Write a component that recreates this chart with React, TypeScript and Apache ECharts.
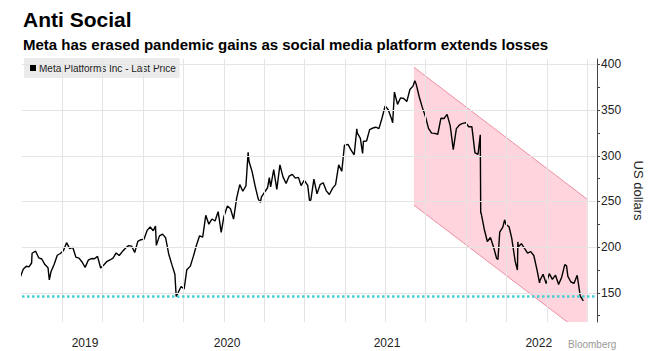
import React, { useEffect, useRef } from "react";
import * as echarts from "echarts";

const seriesName = "Meta Platforms Inc - Last Price";

const priceDates = [
  "2019-03-29","2019-04-05","2019-04-12","2019-04-18","2019-04-24","2019-04-25","2019-05-03","2019-05-10","2019-05-17","2019-05-24","2019-05-31",
  "2019-06-03","2019-06-07","2019-06-14","2019-06-21","2019-06-28","2019-07-05","2019-07-12","2019-07-19","2019-07-26","2019-08-02",
  "2019-08-09","2019-08-16","2019-08-23","2019-08-30","2019-09-06","2019-09-13","2019-09-20","2019-09-27","2019-10-04","2019-10-11",
  "2019-10-18","2019-10-25","2019-11-01","2019-11-08","2019-11-15","2019-11-22","2019-11-29","2019-12-06","2019-12-13","2019-12-20",
  "2019-12-27","2020-01-03","2020-01-10","2020-01-17","2020-01-24","2020-01-29","2020-01-31","2020-02-07","2020-02-14","2020-02-21",
  "2020-02-28","2020-03-06","2020-03-13","2020-03-16","2020-03-20","2020-03-27","2020-04-03","2020-04-09","2020-04-17","2020-04-24",
  "2020-05-01","2020-05-08","2020-05-15","2020-05-22","2020-05-29","2020-06-05","2020-06-12","2020-06-19","2020-06-26","2020-07-02",
  "2020-07-10","2020-07-17","2020-07-24","2020-07-31","2020-08-07","2020-08-14","2020-08-21","2020-08-26","2020-08-28","2020-09-04",
  "2020-09-11","2020-09-18","2020-09-23","2020-09-25","2020-10-02","2020-10-09","2020-10-13","2020-10-16","2020-10-23","2020-10-30",
  "2020-11-06","2020-11-13","2020-11-20","2020-11-27","2020-12-04","2020-12-11","2020-12-18","2020-12-24","2020-12-31","2021-01-08",
  "2021-01-12","2021-01-15","2021-01-22","2021-01-29","2021-02-05","2021-02-12","2021-02-19","2021-02-26","2021-03-05","2021-03-12",
  "2021-03-19","2021-03-26","2021-04-01","2021-04-09","2021-04-16","2021-04-23","2021-04-29","2021-04-30","2021-05-07","2021-05-12",
  "2021-05-14","2021-05-21","2021-05-28","2021-06-04","2021-06-11","2021-06-18","2021-06-25","2021-07-02","2021-07-09","2021-07-16",
  "2021-07-19","2021-07-23","2021-07-30","2021-08-06","2021-08-13","2021-08-20","2021-08-27","2021-09-03","2021-09-07","2021-09-10",
  "2021-09-17","2021-09-24","2021-10-01","2021-10-08","2021-10-15","2021-10-22","2021-10-29","2021-11-05","2021-11-12","2021-11-19",
  "2021-11-26","2021-12-03","2021-12-10","2021-12-17","2021-12-23","2021-12-31","2022-01-07","2022-01-14","2022-01-21","2022-01-28",
  "2022-02-02","2022-02-03","2022-02-04","2022-02-11","2022-02-18","2022-02-25","2022-03-04","2022-03-11","2022-03-14","2022-03-18",
  "2022-03-25","2022-03-29","2022-04-01","2022-04-08","2022-04-14","2022-04-22","2022-04-27","2022-04-28","2022-04-29","2022-05-06",
  "2022-05-13","2022-05-20","2022-05-27","2022-06-03","2022-06-10","2022-06-16","2022-06-17","2022-06-24","2022-07-01","2022-07-08",
  "2022-07-15","2022-07-22","2022-07-28","2022-07-29","2022-08-05","2022-08-12","2022-08-16","2022-08-19","2022-08-26","2022-09-02",
  "2022-09-09","2022-09-16","2022-09-23"
];

const priceValues = [
  166.7,175.7,179.1,178.3,182.6,193.3,195.5,188.3,187.0,180.9,177.5,
  164.2,173.4,181.3,191.1,193.0,196.4,204.9,198.4,199.8,189.0,
  187.9,183.7,177.8,185.7,187.5,187.2,189.9,177.1,180.5,184.2,
  185.9,187.9,193.6,190.8,195.1,198.8,201.6,201.1,194.1,206.3,
  208.1,208.7,218.3,222.1,217.9,223.2,201.9,212.3,214.2,210.2,
  192.5,181.1,170.3,146.0,149.7,156.8,154.2,175.2,179.2,190.1,
  202.3,212.4,210.9,234.9,225.1,230.8,228.6,238.8,216.1,233.4,
  245.1,242.0,230.7,253.7,268.4,261.2,267.0,303.9,293.7,282.7,
  266.6,252.5,249.0,254.8,259.9,265.0,276.0,265.9,284.8,263.1,
  290.0,276.9,269.7,277.8,279.7,275.6,276.4,267.4,273.2,267.6,
  251.1,251.4,274.5,258.3,268.4,270.5,261.6,257.6,264.3,268.4,
  290.1,283.0,311.5,312.5,306.2,301.1,329.5,325.1,319.1,302.6,
  315.9,316.2,328.7,330.4,331.3,329.7,341.4,354.7,350.4,341.2,
  336.1,369.8,356.3,363.5,362.7,359.4,372.6,376.3,382.2,378.7,
  364.7,353.0,343.0,330.1,324.8,324.6,323.6,341.1,340.9,345.3,
  333.1,306.8,329.8,333.8,335.2,336.4,331.8,331.9,303.2,301.7,
  323.0,237.8,237.1,219.6,206.2,210.5,200.1,187.6,186.6,216.5,
  221.8,229.9,224.9,222.3,210.2,184.1,175.0,205.7,200.5,203.8,
  198.6,193.5,195.1,190.8,175.6,160.9,163.7,170.2,160.0,171.0,
  164.7,169.3,160.7,159.1,167.1,180.9,179.5,168.0,161.8,160.3,
  169.2,146.3,141.0
];

// Downtrend channel (pink band) corners
const channelDates = ["2021-09-05", "2022-10-01"];
const channelUpper = [397.0, 252.7];
const channelLower = [246.0, 101.7];

// Pandemic low reference line
const pandemicLow = 146;

// Axis ticks/labels
const yLabelValues = [150, 200, 250, 300, 350, 400];
const yTickValues = [125, 150, 175, 200, 225, 250, 275, 300, 325, 350, 375, 400];
const xTickLabels = ["2019", "2020", "2021", "2022"];
const xTickPositions = [2019.64, 2020.52, 2021.51, 2022.45];
const xGridDates = [
  "2019-07-01","2019-10-01","2020-01-01","2020-04-01","2020-07-01","2020-10-01","2021-01-01",
  "2021-04-01","2021-07-01","2021-10-01","2022-01-01","2022-04-01","2022-07-01","2022-10-01"
];

const toYear = (s: string) => {
  const d = new Date(s + "T00:00:00Z");
  const y = d.getUTCFullYear();
  const start = Date.UTC(y, 0, 1);
  const end = Date.UTC(y + 1, 0, 1);
  return y + (d.getTime() - start) / (end - start);
};

const FONT = "Liberation Sans";

export default function App() {
  const ref = useRef<HTMLDivElement>(null);
  useEffect(() => {
    document.body.style.margin = "0";
    if (!ref.current) return;
    const chart = echarts.init(ref.current, null, { renderer: "svg" });
    const priceData = priceDates.map((d, i) => [toYear(d), priceValues[i]]);
    const edgeColor = "#ee8ea2";
    const gridColor = "#e4e4e4";
    chart.setOption({
      animation: false,
      textStyle: { fontFamily: FONT },
      title: [
        {
          text: "Anti Social",
          left: 23,
          top: 9,
          padding: 0,
          textStyle: { fontSize: 21, fontWeight: "bold", color: "#000", fontFamily: FONT },
        },
        {
          text: "Meta has erased pandemic gains as social media platform extends losses",
          left: 23,
          top: 37,
          padding: 0,
          textStyle: { fontSize: 15, fontWeight: "bold", color: "#000", fontFamily: FONT },
        },
      ],
      legend: {
        data: [seriesName],
        left: 24,
        top: 58,
        padding: [5, 4, 5, 6],
        backgroundColor: "#ebebeb",
        icon: "rect",
        itemWidth: 6,
        itemHeight: 6,
        selectedMode: false,
        textStyle: { fontSize: 10, color: "#222", fontFamily: FONT, padding: [0, 0, 0, -2] },
      },
      grid: { left: 22, right: 50, top: 59, bottom: 29, containLabel: false },
      xAxis: {
        type: "value",
        min: 2019.25,
        max: 2022.811,
        axisLine: { show: false },
        axisTick: { show: false },
        splitLine: { show: false },
        axisLabel: {
          customValues: xTickPositions,
          formatter: (v: number) => {
            const i = xTickPositions.findIndex((p) => Math.abs(p - v) < 1e-6);
            return i >= 0 ? xTickLabels[i] : "";
          },
          fontSize: 12,
          color: "#222",
          margin: 15,
          fontFamily: FONT,
        },
      },
      yAxis: {
        type: "value",
        position: "right",
        min: 118,
        max: 406,
        splitLine: { show: false },
        axisLine: { show: true, lineStyle: { color: "#444", width: 1 } },
        axisTick: { show: true, customValues: yTickValues, length: 3, lineStyle: { color: "#444" } },
        axisLabel: { customValues: yLabelValues, fontSize: 12, color: "#222", margin: 4, fontFamily: FONT },
        name: "US dollars",
        nameLocation: "middle",
        nameRotate: -90,
        nameGap: 27,
        nameTextStyle: { fontSize: 13, color: "#222", fontFamily: FONT },
      },
      series: [
        {
          name: "gridlines",
          type: "line",
          data: [],
          silent: true,
          z: 1,
          markLine: {
            silent: true,
            symbol: "none",
            label: { show: false },
            lineStyle: { color: gridColor, width: 1, type: "solid" },
            data: [
              ...yLabelValues.map((v) => ({ yAxis: v })),
              ...xGridDates.map((d) => ({ xAxis: toYear(d) })),
            ],
          },
        },
        {
          name: "channel",
          type: "custom",
          silent: true,
          clip: true,
          z: 2,
          data: [[toYear(channelDates[0]), channelUpper[0]]],
          renderItem: (_params: any, api: any) => {
            const up = channelDates.map((d, i) => api.coord([toYear(d), channelUpper[i]]));
            const lo = channelDates.map((d, i) => api.coord([toYear(d), channelLower[i]]));
            return {
              type: "group",
              children: [
                {
                  type: "polygon",
                  shape: { points: [up[0], up[1], lo[1], lo[0]] },
                  style: { fill: "rgba(255,120,150,0.32)" },
                },
                {
                  type: "line",
                  shape: { x1: up[0][0], y1: up[0][1], x2: up[1][0], y2: up[1][1] },
                  style: { stroke: edgeColor, lineWidth: 1 },
                },
                {
                  type: "line",
                  shape: { x1: lo[0][0], y1: lo[0][1], x2: lo[1][0], y2: lo[1][1] },
                  style: { stroke: edgeColor, lineWidth: 1 },
                },
              ],
            };
          },
        },
        {
          name: seriesName,
          type: "line",
          data: priceData,
          symbol: "none",
          color: "#000",
          z: 4,
          lineStyle: { color: "#000", width: 1.4 },
          markLine: {
            silent: true,
            symbol: "none",
            label: { show: false },
            lineStyle: { color: "#45cfd1", width: 2.5, type: "dotted" },
            data: [{ yAxis: pandemicLow }],
          },
        },
      ],
      graphic: [
        {
          type: "text",
          left: 568,
          top: 339,
          style: { text: "Bloomberg", fontSize: 10, fill: "#999", fontFamily: FONT },
        },
      ],
    });
    return () => chart.dispose();
  }, []);
  return <div ref={ref} style={{ width: 653, height: 351 }} />;
}
